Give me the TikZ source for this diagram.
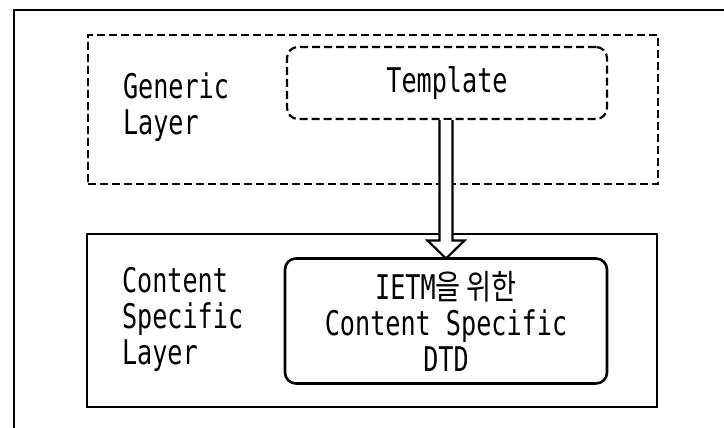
\documentclass[tikz,border=0pt]{standalone}
\usepackage{fontspec}
\newfontfamily\monofnt[FakeStretch=0.74]{DejaVu Sans Mono}
\newfontfamily\korfnt[FakeStretch=0.8]{Noto Sans CJK KR}
\newcommand\ko[1]{{\korfnt #1}}
\usetikzlibrary{calc}
\begin{document}
\begin{tikzpicture}[x=1pt,y=-1pt,
  every node/.style={font=\monofnt\fontsize{34}{36}\selectfont, inner sep=0pt, outer sep=0pt},
  framebox/.style={draw, line width=2.6pt},
  dashbox/.style={draw, line width=2.2pt, dash pattern=on 8pt off 4pt},
  roundbox/.style={rounded corners=11pt},
  lbl/.style={align=left, anchor=base west},
  hollow/.style={draw, fill=white, line width=2.2pt, line join=miter}]
\useasboundingbox (0,0) rectangle (724,428);
% outer frame (cropped at right and bottom)
\coordinate (ftl) at (14,10);
\coordinate (ftr) at (724,10);
\coordinate (fbl) at (14,428);
\draw[line width=2.6pt] (ftr) -- (ftl) -- (fbl);
% layers
\node[dashbox, minimum width=570pt, minimum height=149pt] (gen) at (373,109.5) {};
\node[framebox, minimum width=570pt, minimum height=173pt] (csl) at (372,320.5) {};
% inner boxes
\node[dashbox, roundbox, minimum width=320pt, minimum height=72pt] (tmpl) at (447,83) {Template};
\node[framebox, roundbox, align=center, minimum width=322pt, minimum height=125pt] (dtd) at (446,321)
  {IETM\ko{을 위한}\\Content Specific\\DTD};
% labels
\node[lbl] (genlbl) at (123,135) {Generic\\Layer};
\node[lbl] (csllbl) at (122,364) {Content\\Specific\\Layer};
% hollow arrow
\filldraw[hollow]
  ($(dtd.north |- tmpl.south)+(-6.5,1.2)$) --
  ($(dtd.north)+(-6.5,-18)$) --
  ($(dtd.north)+(-18.5,-18)$) --
  (dtd.north) --
  ($(dtd.north)+(18.5,-18)$) --
  ($(dtd.north)+(6.5,-18)$) --
  ($(dtd.north |- tmpl.south)+(6.5,1.2)$);
\end{tikzpicture}
\end{document}
